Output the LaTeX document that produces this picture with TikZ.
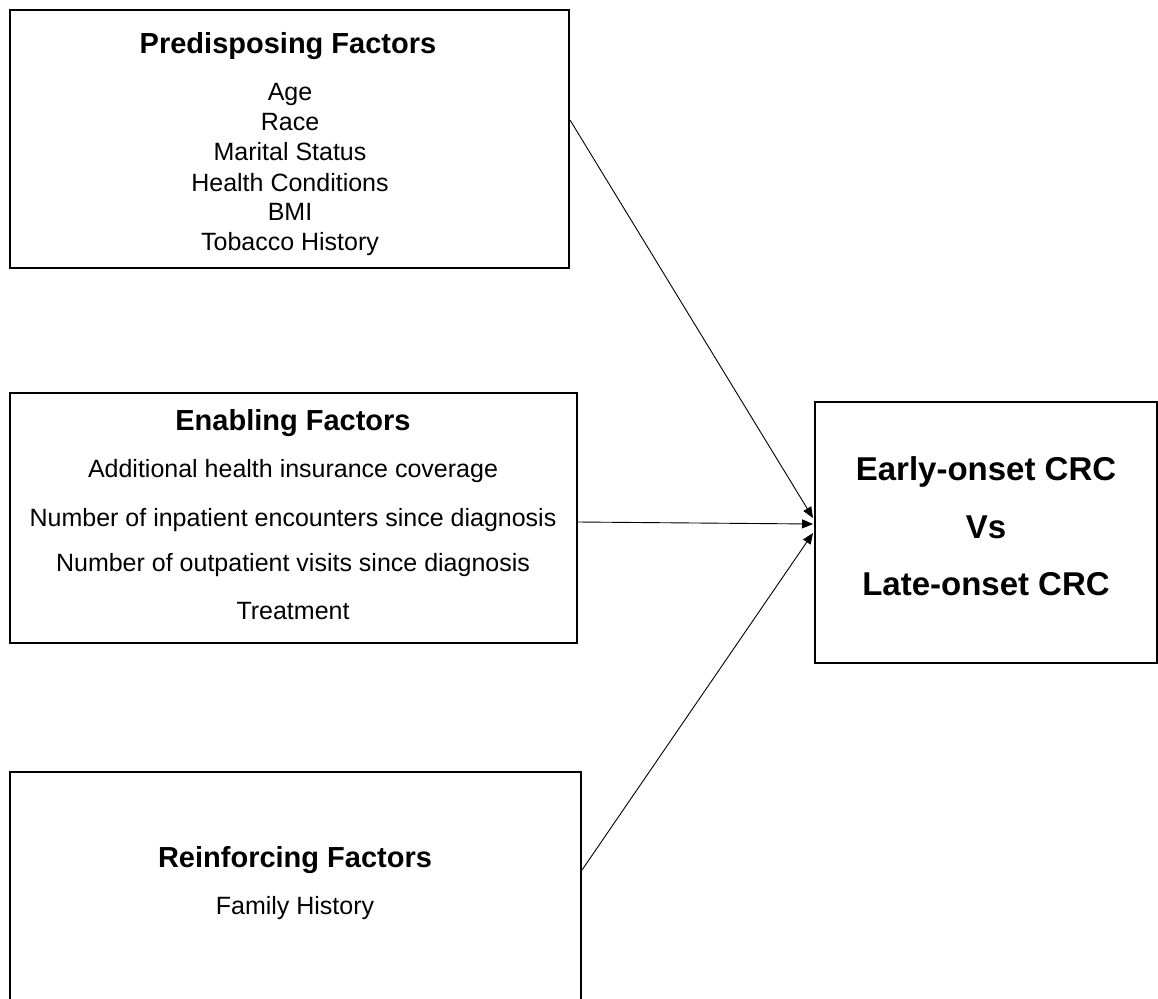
\documentclass[tikz,border=0pt]{standalone}
\usepackage{fontspec}
\setmainfont{Liberation Sans}
\usetikzlibrary{arrows.meta}
\begin{document}
\begin{tikzpicture}[x=1pt,y=-1pt,
  box/.style={draw=black,line width=2pt,rectangle,inner sep=0pt},
  ttl/.style={font=\fontsize{29}{33}\selectfont\bfseries,inner sep=0pt,anchor=base},
  itm/.style={font=\fontsize{25}{29}\selectfont,inner sep=0pt,anchor=base},
  big/.style={font=\fontsize{33}{38}\selectfont\bfseries,inner sep=0pt,anchor=base},
  conn/.style={line width=0.9pt,-{Triangle[length=11pt,width=9pt]}}]
\useasboundingbox (0,0) rectangle (1158,998);
% boxes
\node[box,minimum width=559pt,minimum height=258pt] (pre) at (289.5,139) {};
\node[box,minimum width=567pt,minimum height=250pt] (ena) at (293.5,518) {};
\node[box,minimum width=571pt,minimum height=230pt] (rei) at (295.5,887) {};
\node[box,minimum width=342pt,minimum height=261pt] (out) at (986,532.5) {};
% predisposing text
\node[ttl] (preT) at (288,54) {Predisposing Factors};
\node[itm] (p1) at (290,100) {Age};
\node[itm] (p2) at (290,130) {Race};
\node[itm] (p3) at (290,160) {Marital Status};
\node[itm] (p4) at (290,191) {Health Conditions};
\node[itm] (p5) at (290,220) {BMI};
\node[itm] (p6) at (290,250) {Tobacco History};
% enabling text
\node[ttl] (enaT) at (293,430) {Enabling Factors};
\node[itm] (e1) at (293,477.5) {Additional health insurance coverage};
\node[itm] (e2) at (293,526) {Number of inpatient encounters since diagnosis};
\node[itm] (e3) at (293,571.5) {Number of outpatient visits since diagnosis};
\node[itm] (e4) at (293,619) {Treatment};
% reinforcing text
\node[ttl] (reiT) at (295,867) {Reinforcing Factors};
\node[itm] (r1) at (295,914) {Family History};
% outcome text
\node[big] (o1) at (986,480) {Early-onset CRC};
\node[big] (o2) at (986,538) {Vs};
\node[big] (o3) at (986,595) {Late-onset CRC};
% connectors
\coordinate (t1) at (813,518);
\coordinate (t2) at (813,524);
\coordinate (t3) at (813,533);
\draw[conn] (pre.east |- 0,120) -- (t1);
\draw[conn] (ena.east |- 0,522) -- (t2);
\draw[conn] (rei.east |- 0,870) -- (t3);
\end{tikzpicture}
\end{document}
